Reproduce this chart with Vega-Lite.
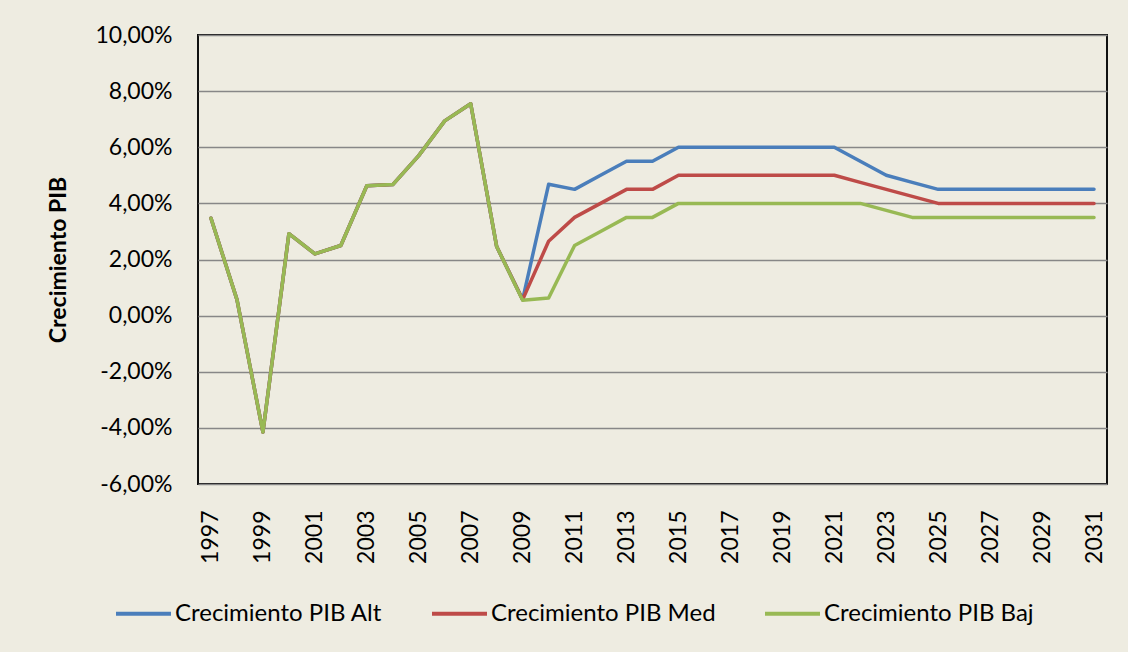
{
  "$schema": "https://vega.github.io/schema/vega-lite/v6.json",
  "autosize": "none",
  "width": 909,
  "height": 449,
  "padding": {"left": 198, "top": 35, "right": 21, "bottom": 168},
  "background": "#EEECE1",
  "data": {
    "values": [
      {"year": 1997, "Crecimiento PIB Alt": 3.47, "Crecimiento PIB Med": 3.47, "Crecimiento PIB Baj": 3.47},
      {"year": 1998, "Crecimiento PIB Alt": 0.57, "Crecimiento PIB Med": 0.57, "Crecimiento PIB Baj": 0.57},
      {"year": 1999, "Crecimiento PIB Alt": -4.15, "Crecimiento PIB Med": -4.15, "Crecimiento PIB Baj": -4.15},
      {"year": 2000, "Crecimiento PIB Alt": 2.92, "Crecimiento PIB Med": 2.92, "Crecimiento PIB Baj": 2.92},
      {"year": 2001, "Crecimiento PIB Alt": 2.2, "Crecimiento PIB Med": 2.2, "Crecimiento PIB Baj": 2.2},
      {"year": 2002, "Crecimiento PIB Alt": 2.5, "Crecimiento PIB Med": 2.5, "Crecimiento PIB Baj": 2.5},
      {"year": 2003, "Crecimiento PIB Alt": 4.63, "Crecimiento PIB Med": 4.63, "Crecimiento PIB Baj": 4.63},
      {"year": 2004, "Crecimiento PIB Alt": 4.67, "Crecimiento PIB Med": 4.67, "Crecimiento PIB Baj": 4.67},
      {"year": 2005, "Crecimiento PIB Alt": 5.7, "Crecimiento PIB Med": 5.7, "Crecimiento PIB Baj": 5.7},
      {"year": 2006, "Crecimiento PIB Alt": 6.94, "Crecimiento PIB Med": 6.94, "Crecimiento PIB Baj": 6.94},
      {"year": 2007, "Crecimiento PIB Alt": 7.55, "Crecimiento PIB Med": 7.55, "Crecimiento PIB Baj": 7.55},
      {"year": 2008, "Crecimiento PIB Alt": 2.46, "Crecimiento PIB Med": 2.46, "Crecimiento PIB Baj": 2.46},
      {"year": 2009, "Crecimiento PIB Alt": 0.57, "Crecimiento PIB Med": 0.57, "Crecimiento PIB Baj": 0.55},
      {"year": 2010, "Crecimiento PIB Alt": 4.68, "Crecimiento PIB Med": 2.65, "Crecimiento PIB Baj": 0.63},
      {"year": 2011, "Crecimiento PIB Alt": 4.5, "Crecimiento PIB Med": 3.5, "Crecimiento PIB Baj": 2.5},
      {"year": 2012, "Crecimiento PIB Alt": 5.0, "Crecimiento PIB Med": 4.0, "Crecimiento PIB Baj": 3.0},
      {"year": 2013, "Crecimiento PIB Alt": 5.5, "Crecimiento PIB Med": 4.5, "Crecimiento PIB Baj": 3.5},
      {"year": 2014, "Crecimiento PIB Alt": 5.5, "Crecimiento PIB Med": 4.5, "Crecimiento PIB Baj": 3.5},
      {"year": 2015, "Crecimiento PIB Alt": 6.0, "Crecimiento PIB Med": 5.0, "Crecimiento PIB Baj": 4.0},
      {"year": 2016, "Crecimiento PIB Alt": 6.0, "Crecimiento PIB Med": 5.0, "Crecimiento PIB Baj": 4.0},
      {"year": 2017, "Crecimiento PIB Alt": 6.0, "Crecimiento PIB Med": 5.0, "Crecimiento PIB Baj": 4.0},
      {"year": 2018, "Crecimiento PIB Alt": 6.0, "Crecimiento PIB Med": 5.0, "Crecimiento PIB Baj": 4.0},
      {"year": 2019, "Crecimiento PIB Alt": 6.0, "Crecimiento PIB Med": 5.0, "Crecimiento PIB Baj": 4.0},
      {"year": 2020, "Crecimiento PIB Alt": 6.0, "Crecimiento PIB Med": 5.0, "Crecimiento PIB Baj": 4.0},
      {"year": 2021, "Crecimiento PIB Alt": 6.0, "Crecimiento PIB Med": 5.0, "Crecimiento PIB Baj": 4.0},
      {"year": 2022, "Crecimiento PIB Alt": 5.5, "Crecimiento PIB Med": 4.75, "Crecimiento PIB Baj": 4.0},
      {"year": 2023, "Crecimiento PIB Alt": 5.0, "Crecimiento PIB Med": 4.5, "Crecimiento PIB Baj": 3.75},
      {"year": 2024, "Crecimiento PIB Alt": 4.75, "Crecimiento PIB Med": 4.25, "Crecimiento PIB Baj": 3.5},
      {"year": 2025, "Crecimiento PIB Alt": 4.5, "Crecimiento PIB Med": 4.0, "Crecimiento PIB Baj": 3.5},
      {"year": 2026, "Crecimiento PIB Alt": 4.5, "Crecimiento PIB Med": 4.0, "Crecimiento PIB Baj": 3.5},
      {"year": 2027, "Crecimiento PIB Alt": 4.5, "Crecimiento PIB Med": 4.0, "Crecimiento PIB Baj": 3.5},
      {"year": 2028, "Crecimiento PIB Alt": 4.5, "Crecimiento PIB Med": 4.0, "Crecimiento PIB Baj": 3.5},
      {"year": 2029, "Crecimiento PIB Alt": 4.5, "Crecimiento PIB Med": 4.0, "Crecimiento PIB Baj": 3.5},
      {"year": 2030, "Crecimiento PIB Alt": 4.5, "Crecimiento PIB Med": 4.0, "Crecimiento PIB Baj": 3.5},
      {"year": 2031, "Crecimiento PIB Alt": 4.5, "Crecimiento PIB Med": 4.0, "Crecimiento PIB Baj": 3.5}
    ]
  },
  "transform": [
    {"fold": ["Crecimiento PIB Alt", "Crecimiento PIB Med", "Crecimiento PIB Baj"], "as": ["series", "value"]}
  ],
  "mark": {"type": "line", "strokeWidth": 3.5, "strokeJoin": "round", "strokeCap": "round"},
  "encoding": {
    "x": {
      "field": "year",
      "type": "ordinal",
      "scale": {"type": "point", "padding": 0.5},
      "axis": {
        "title": null,
        "values": [1997, 1999, 2001, 2003, 2005, 2007, 2009, 2011, 2013, 2015, 2017, 2019, 2021, 2023, 2025, 2027, 2029, 2031],
        "labelAngle": -90,
        "labelAlign": "right",
        "labelBaseline": "middle",
        "labelPadding": 26,
        "ticks": false,
        "grid": false,
        "domain": false
      }
    },
    "y": {
      "field": "value",
      "type": "quantitative",
      "scale": {"domain": [-6, 10], "nice": false, "zero": false},
      "axis": {
        "title": "Crecimiento PIB",
        "values": [-6, -4, -2, 0, 2, 4, 6, 8, 10],
        "labelExpr": "replace(replace(format(datum.value, '.2f'), '.', ','), '\u2212', '-') + '%'",
        "labelPadding": 26,
        "ticks": false,
        "domain": false,
        "grid": true,
        "gridColor": "#878787",
        "gridWidth": 1.6,
        "gridOpacity": 1,
        "titleFontWeight": "bold",
        "titlePadding": 24
      }
    },
    "color": {
      "field": "series",
      "type": "nominal",
      "scale": {
        "domain": ["Crecimiento PIB Alt", "Crecimiento PIB Med", "Crecimiento PIB Baj"],
        "range": ["#4A7EBB", "#BE4B48", "#98B954"]
      },
      "legend": {
        "title": null,
        "orient": "none",
        "direction": "horizontal",
        "legendX": -84,
        "legendY": 549,
        "symbolType": "stroke",
        "symbolSize": 3025,
        "symbolStrokeWidth": 4,
        "labelOffset": 2,
        "columnPadding": 41,
        "labelFontSize": 24,
        "labelFont": "Lato",
        "labelColor": "#000000",
        "labelLimit": 400
      }
    }
  },
  "config": {
    "view": {"stroke": "#111111", "strokeWidth": 2},
    "axis": {
      "labelFont": "Lato",
      "labelFontSize": 23,
      "labelColor": "#000000",
      "titleFont": "Lato",
      "titleFontSize": 23,
      "titleColor": "#000000"
    }
  }
}
